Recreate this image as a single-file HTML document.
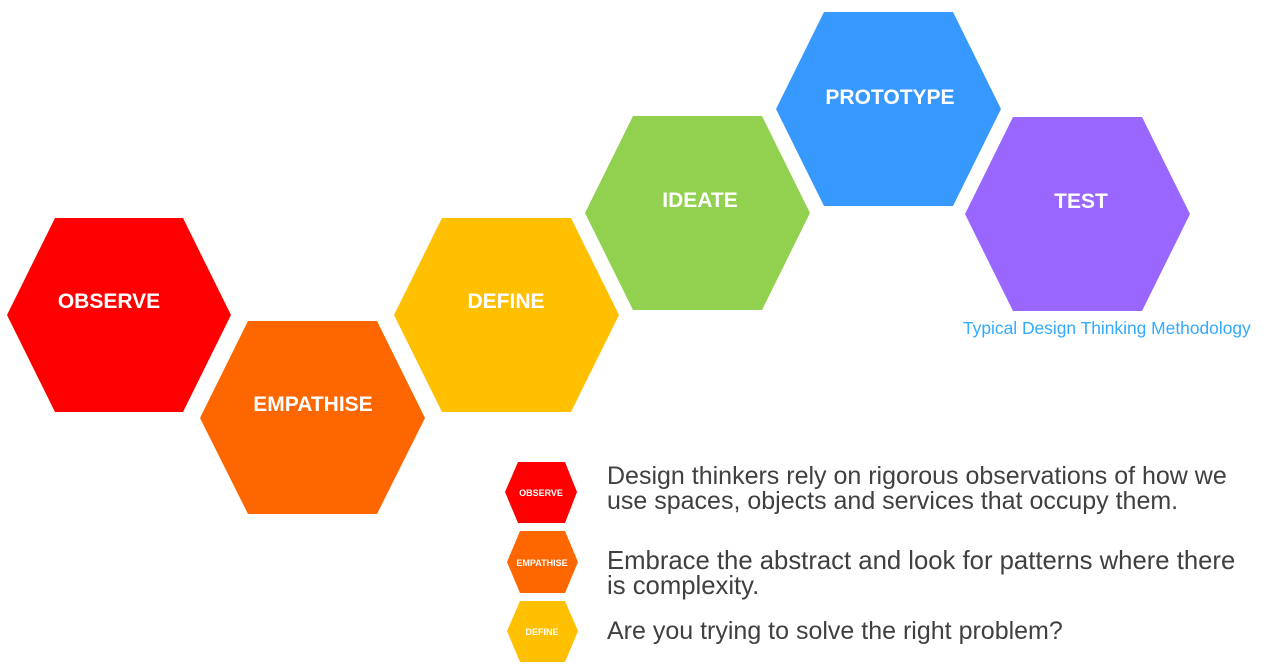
<!DOCTYPE html>
<html><head><meta charset="utf-8"><style>
html,body{margin:0;padding:0;background:#fff;}
body{width:1267px;height:667px;position:relative;overflow:hidden;font-family:"Liberation Sans",Arial,sans-serif;}
svg{position:absolute;left:0;top:0;}
.t{position:absolute;left:607px;font-size:25px;line-height:24.5px;color:#404040;white-space:nowrap;}
</style></head><body>
<svg width="1267" height="667" viewBox="0 0 1267 667">
<g font-family="Liberation Sans, Arial, sans-serif" font-weight="bold" fill="#fff" text-anchor="middle">
<polygon points="7,315 55,218 183,218 231,315 183,412 55,412" fill="#fe0000"/>
<text x="109" y="308" font-size="21" fill="#fff">OBSERVE</text>
<polygon points="200,418 248,321 377,321 425,418 377,514 248,514" fill="#fe6700"/>
<text x="313" y="411" font-size="21" fill="#fff">EMPATHISE</text>
<polygon points="394,315 442,218 571,218 619,315 571,412 442,412" fill="#fec000"/>
<text x="506" y="308" font-size="21" fill="#fff">DEFINE</text>
<polygon points="585,213 633,116 762,116 810,213 762,310 633,310" fill="#92d050"/>
<text x="700" y="207" font-size="21" fill="#fff">IDEATE</text>
<polygon points="776,109 824,12 953,12 1001,109 953,206 824,206" fill="#3799fe"/>
<text x="890" y="104" font-size="21" fill="#fff">PROTOTYPE</text>
<polygon points="965,214 1013,117 1142,117 1190,214 1142,311 1013,311" fill="#9966ff"/>
<text x="1081" y="208" font-size="21" fill="#fff">TEST</text>

<polygon points="505,492 518,462 565,462 577,492 565,523 518,523" fill="#fe0000"/>
<text x="541" y="496" font-size="9" fill="#fff">OBSERVE</text>
<polygon points="507,562 520,531 565,531 578,562 565,593 520,593" fill="#fe6700"/>
<text x="542" y="566" font-size="9" fill="#fff">EMPATHISE</text>
<polygon points="507,631 520,601 565,601 578,631 565,662 520,662" fill="#fec000"/>
<text x="542" y="635" font-size="9" fill="#fff">DEFINE</text>
</g>
<text x="963" y="334" font-family="Liberation Sans, Arial, sans-serif" font-size="17.4" fill="#33aaff">Typical Design Thinking Methodology</text>
</svg>
<div class="t" style="top:464px">Design thinkers rely on rigorous observations of how we<br>use spaces, objects and services that occupy them.</div>
<div class="t" style="top:549px;font-size:25.7px">Embrace the abstract and look for patterns where there<br>is complexity.</div>
<div class="t" style="top:619px">Are you trying to solve the right problem?</div>
</body></html>
